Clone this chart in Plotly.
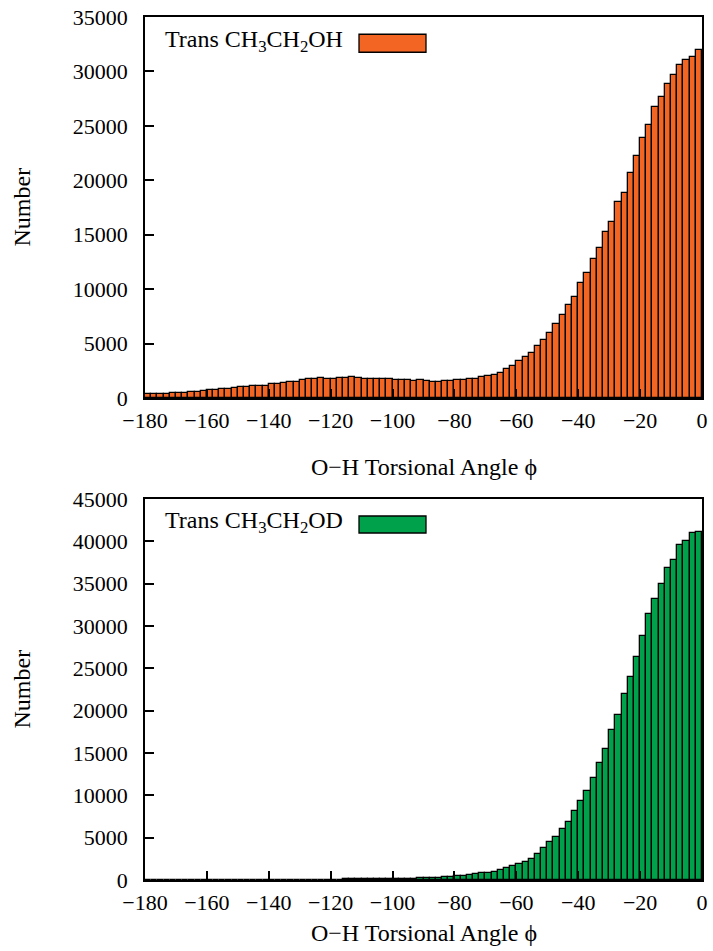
import plotly.graph_objects as go

# bin centres of the 2-degree histogram bins (-180 .. 0)
angle_centers = list(range(-179, 0, 2))

counts_oh = [
    336, 397, 397, 336, 459, 489, 428, 550, 581, 611,
    764, 734, 825, 856, 917, 1009, 1009, 1070, 1131, 1070,
    1315, 1315, 1376, 1467, 1467, 1620, 1742, 1742, 1804, 1742,
    1773, 1834, 1834, 1956, 1804, 1742, 1742, 1773, 1773, 1773,
    1651, 1651, 1620, 1590, 1651, 1559, 1480, 1464, 1525, 1587,
    1617, 1648, 1740, 1770, 1923, 2015, 2107, 2321, 2688, 2963,
    3391, 3727, 4155, 4767, 5347, 5959, 6785, 7640, 8527, 9322,
    10575, 11462, 12746, 13786, 15223, 16201, 17974, 18830, 20695, 22254,
    23905, 25067, 26749, 27666, 28889, 29715, 30632, 31090, 31333, 32007,
]

counts_od = [
    1, 0, 1, 1, 2, 1, 2, 3, 3, 4,
    4, 5, 6, 6, 7, 8, 9, 10, 11, 12,
    14, 15, 17, 19, 21, 24, 27, 30, 34, 40,
    48, 56, 64, 72, 80, 88, 96, 104, 112, 120,
    130, 140, 152, 165, 180, 198, 222, 260, 310, 360,
    433, 512, 551, 669, 787, 866, 984, 1181, 1456, 1653,
    1890, 2165, 2480, 3031, 3740, 4449, 5118, 5984, 6811, 8110,
    9291, 10511, 12086, 13778, 15471, 17715, 19487, 21927, 24014, 26376,
    28777, 31376, 33225, 34997, 36808, 37792, 39564, 40036, 40941, 41060,
]

x_ticks = list(range(-180, 1, 20))
y_ticks_top = list(range(0, 35001, 5000))
y_ticks_bot = list(range(0, 45001, 5000))

label_top = "Trans CH<sub>3</sub>CH<sub>2</sub>OH"
label_bot = "Trans CH<sub>3</sub>CH<sub>2</sub>OD"
x_title = "O\u2212H Torsional Angle \u03d5"
y_title = "Number"

orange = "#F26522"
green = "#00A14B"
FONT = "Liberation Serif"
FS = 22      # tick labels
FT = 24      # titles and key text

fig = go.Figure()
fig.add_trace(go.Bar(x=angle_centers, y=counts_oh, width=2, xaxis="x", yaxis="y",
                     marker=dict(color=orange, line=dict(color="black", width=1.3)),
                     showlegend=False))
fig.add_trace(go.Bar(x=angle_centers, y=counts_od, width=2, xaxis="x2", yaxis="y2",
                     marker=dict(color=green, line=dict(color="black", width=1.3)),
                     showlegend=False))

W, H = 713, 951
L, R, T, B = 145, 11, 17, 71
pw = W - L - R
ph = H - T - B
ax_top_bottom = 398   # px of top panel x-axis
ax_bot_top = 499      # px of bottom panel top frame
top_dom = [(H - B - ax_top_bottom) / ph, 1.0]
bot_dom = [0.0, (H - B - ax_bot_top) / ph]

ax_common = dict(showline=True, linecolor="black", linewidth=1.5, mirror=True,
                 ticks="inside", ticklen=9, tickwidth=1.5, tickcolor="black",
                 showgrid=False, zeroline=False, automargin=False,
                 ticklabeloverflow="allow",
                 tickfont=dict(family=FONT, size=FS, color="black"))

fig.update_layout(
    width=W, height=H,
    margin=dict(l=L, r=R, t=T, b=B),
    paper_bgcolor="white", plot_bgcolor="white",
    bargap=0, barmode="overlay",
    font=dict(family=FONT, size=FS, color="black"),
    xaxis=dict(domain=[0, 1], anchor="y", range=[-180, 0], tickvals=x_ticks,
               ticklabelstandoff=2, **ax_common),
    yaxis=dict(domain=top_dom, anchor="x", range=[0, 35000], tickvals=y_ticks_top,
               tickformat="d", ticklabelstandoff=11, **ax_common),
    xaxis2=dict(domain=[0, 1], anchor="y2", range=[-180, 0], tickvals=x_ticks,
                ticklabelstandoff=2, **ax_common),
    yaxis2=dict(domain=bot_dom, anchor="x2", range=[0, 45000], tickvals=y_ticks_bot,
                tickformat="d", ticklabelstandoff=11, **ax_common),
)

ann = []
# axis titles
for yref, shift in (("y domain", -54), ("y2 domain", -38)):
    ann.append(dict(text=x_title, xref="x domain", yref=yref, x=0.5, y=0,
                    xanchor="center", yanchor="top", yshift=shift, showarrow=False,
                    font=dict(family=FONT, size=FT)))
for yref in ("y domain", "y2 domain"):
    ann.append(dict(text=y_title, xref="paper", yref=yref, x=(21 - L) / pw, y=0.5,
                    xanchor="center", yanchor="middle", textangle=-90, showarrow=False,
                    font=dict(family=FONT, size=FT)))
# key labels
ann.append(dict(text=label_top, xref="x domain", yref="y domain", x=(163 - 145) / 557,
                y=0.937, xanchor="left", yanchor="middle", showarrow=False,
                font=dict(family=FONT, size=FT)))
ann.append(dict(text=label_bot, xref="x2 domain", yref="y2 domain", x=(163 - 145) / 557,
                y=0.94, xanchor="left", yanchor="middle", showarrow=False,
                font=dict(family=FONT, size=FT)))
fig.update_layout(annotations=ann)

# key swatches
fig.add_shape(type="rect", xref="x domain", yref="y domain",
              x0=(359 - 145) / 557, x1=(426 - 145) / 557, y0=0.9075, y1=0.9547,
              fillcolor=orange, line=dict(color="black", width=1.3))
fig.add_shape(type="rect", xref="x2 domain", yref="y2 domain",
              x0=(359 - 145) / 557, x1=(426 - 145) / 557, y0=0.9108, y1=0.9554,
              fillcolor=green, line=dict(color="black", width=1.3))

fig.write_html("out.html",
               config={"displayModeBar": False},
               post_script="document.body.style.margin='0px';"
                           "document.body.style.overflow='hidden';")
